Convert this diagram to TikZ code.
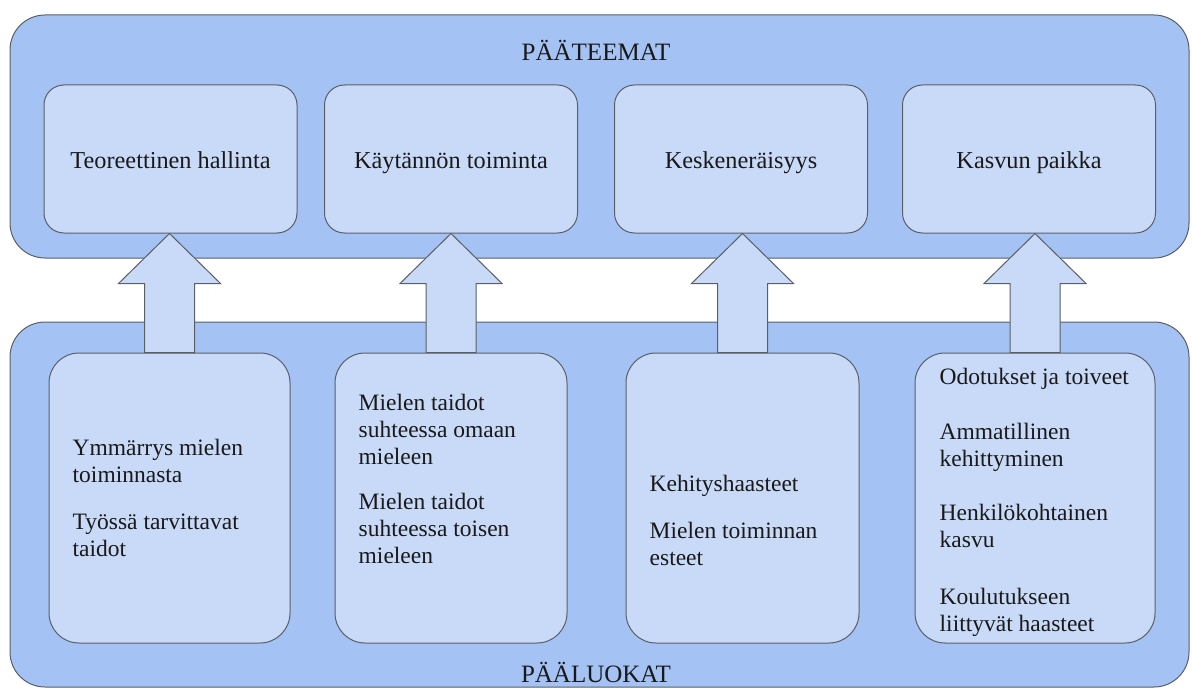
\documentclass[tikz,border=0pt]{standalone}
\usepackage{fontspec}
\setmainfont{Liberation Serif}
\usetikzlibrary{positioning}
\usetikzlibrary{calc}
\definecolor{outerblue}{HTML}{A4C2F4}
\definecolor{innerblue}{HTML}{C9DAF8}
\definecolor{edgegray}{HTML}{5A5F66}

% block arrow from the lower box (#1) up to the upper box (#2), tip named #3
\newcommand{\liftarrow}[3]{%
	\coordinate (#3) at (#1.north |- #2.south);
	\draw[arrowbox] ([xshift=-25pt]#1.north) -- ([xshift=-25pt,yshift=-50pt]#3)
		-- ([xshift=-51pt,yshift=-50pt]#3) -- (#3) -- ([xshift=51pt,yshift=-50pt]#3)
		-- ([xshift=25pt,yshift=-50pt]#3) -- ([xshift=25pt]#1.north) -- cycle;
}

\begin{document}
\begin{tikzpicture}[x=1pt, y=-1pt,
		outer/.style={draw=edgegray, line width=1pt, fill=outerblue, rounded corners=35pt},
		theme/.style={draw=edgegray, line width=1pt, fill=innerblue, rounded corners=20pt,
				minimum width=253pt, minimum height=148pt, align=center, text=black!90,
				text height=20pt, text depth=2pt, font=\fontsize{24.3}{28}\selectfont},
		category/.style={draw=edgegray, line width=1pt, fill=innerblue, rounded corners=30pt,
				minimum height=290pt},
		itemtext/.style={anchor=west, align=left, inner sep=0pt, text=black!90,
				font=\fontsize{23.5}{27}\selectfont},
		heading/.style={text=black!90, font=\fontsize{25}{28}\selectfont},
		arrowbox/.style={draw=edgegray, line width=1pt, fill=innerblue, line join=miter}]
	\useasboundingbox (0,0) rectangle (1192,690);

	% the two large panels
	\draw[outer] (10,15) rectangle (1189,258);
	\draw[outer] (10,322) rectangle (1189,687);
	\node[heading] (paateemat) at (596,50) {PÄÄTEEMAT};
	\node[heading] (paaluokat) at (596,672) {PÄÄLUOKAT};

	% main themes
	\node[theme] (t1) at (170.5,159) {Teoreettinen hallinta};
	\node[theme] (t2) at (451,159) {Käytännön toiminta};
	\node[theme] (t3) at (741,159) {Keskeneräisyys};
	\node[theme] (t4) at (1029,159) {Kasvun paikka};

	% main categories
	\node[category, minimum width=241pt] (b1) at (169.5,498) {};
	\node[category, minimum width=232pt] (b2) at (451,498) {};
	\node[category, minimum width=233pt] (b3) at (742.5,498) {};
	\node[category, minimum width=240pt] (b4) at (1035,498) {};

	\node[itemtext] (l1) at ([xshift=24pt]b1.west) {Ymmärrys mielen\\toiminnasta\\[20pt]Työssä tarvittavat\\taidot};
	\node[itemtext] (l2) at ([xshift=24pt,yshift=19pt]b2.west) {Mielen taidot\\suhteessa omaan\\mieleen\\[18pt]Mielen taidot\\suhteessa toisen\\mieleen};
	\node[itemtext] (l3) at ([xshift=24pt,yshift=-22pt]b3.west) {Kehityshaasteet\\[20pt]Mielen toiminnan\\esteet};
	\node[itemtext] (l4) at ([xshift=25pt,yshift=-4.5pt]b4.west) {Odotukset ja toiveet\\[28pt]Ammatillinen\\kehittyminen\\[27pt]Henkilökohtainen\\kasvu\\[30pt]Koulutukseen\\liittyvät haasteet};

	\liftarrow{b1}{t1}{tip1}
	\liftarrow{b2}{t2}{tip2}
	\liftarrow{b3}{t3}{tip3}
	\liftarrow{b4}{t4}{tip4}
\end{tikzpicture}
\end{document}
